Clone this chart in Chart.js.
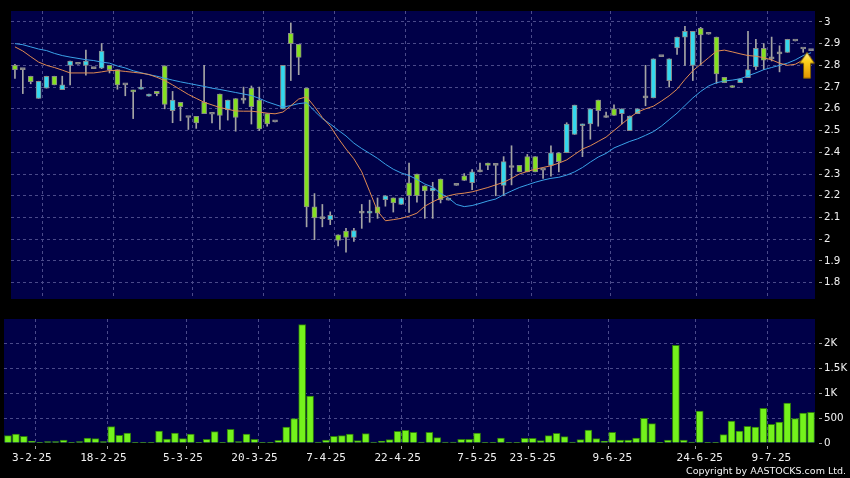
<!DOCTYPE html>
<html>
<head>
<meta charset="utf-8">
<script src="https://cdn.jsdelivr.net/npm/chart.js@4.4.1/dist/chart.umd.min.js"></script>
<style>
html, body { margin:0; padding:0; background:#000; }
#wrap { position:relative; width:850px; height:478px; overflow:hidden; background:#000; }
#price { position:absolute; left:0; top:0; }
#vol { position:absolute; left:0; top:310px; }
#copy { position:absolute; right:4px; top:466px; font-family:"DejaVu Sans"; font-size:9.5px; line-height:9.5px; color:#f4f4f4; white-space:nowrap; }
</style>
</head>
<body>
<div id="wrap">
<canvas id="price" width="850" height="310"></canvas>
<canvas id="vol" width="850" height="168"></canvas>
<div id="copy">Copyright by AASTOCKS.com Ltd.</div>
</div>
<script>
// daily candles, oldest first (102 sessions)
var opens = [2.80,2.78,2.75,2.648,2.695,2.75,2.688,2.80,2.805,2.80,
	2.785,2.787,2.80,2.78,2.71,2.686,2.69,2.658,2.68,2.798,
	2.592,2.63,2.56,2.565,2.63,2.575,2.668,2.595,2.647,2.64,
	2.695,2.64,2.578,2.54,2.60,2.947,2.897,2.695,2.149,2.095,
	2.09,2.02,2.038,2.008,2.12,2.12,2.149,2.182,2.19,2.16,
	2.26,2.30,2.246,2.222,2.277,2.18,2.248,2.292,2.26,2.31,
	2.35,2.34,2.248,2.33,2.34,2.38,2.38,2.318,2.34,2.398,
	2.398,2.482,2.522,2.53,2.64,2.56,2.60,2.578,2.50,2.578,
	2.65,2.65,2.84,2.73,2.88,2.93,2.80,2.97,2.943,2.93,
	2.745,2.707,2.72,2.743,2.793,2.878,2.83,2.853,2.86,2.912,
	2.875,2.868]
var highs = [2.805,2.78,2.75,2.727,2.75,2.75,2.75,2.82,2.805,2.87,
	2.785,2.90,2.80,2.78,2.71,2.686,2.735,2.668,2.68,2.798,
	2.68,2.63,2.56,2.565,2.80,2.575,2.668,2.64,2.647,2.70,
	2.705,2.70,2.578,2.54,2.80,2.995,2.897,2.695,2.21,2.16,
	2.126,2.02,2.05,2.05,2.16,2.18,2.19,2.20,2.19,2.19,
	2.35,2.30,2.246,2.262,2.277,2.18,2.248,2.302,2.32,2.35,
	2.35,2.34,2.38,2.43,2.34,2.39,2.38,2.318,2.43,2.398,
	2.536,2.617,2.53,2.60,2.64,2.585,2.618,2.60,2.567,2.60,
	2.80,2.83,2.84,2.83,2.93,2.98,2.956,2.975,2.943,2.93,
	2.745,2.707,2.738,2.956,2.92,2.90,2.93,2.89,2.92,2.912,
	2.875,2.868]
var lows = [2.74,2.67,2.715,2.648,2.695,2.71,2.688,2.71,2.805,2.755,
	2.785,2.785,2.765,2.69,2.66,2.555,2.69,2.658,2.66,2.60,
	2.536,2.545,2.505,2.51,2.578,2.535,2.505,2.548,2.497,2.625,
	2.53,2.50,2.52,2.54,2.60,2.73,2.757,2.057,1.998,2.057,
	2.067,1.969,1.94,1.99,2.05,2.078,2.096,2.152,2.125,2.16,
	2.123,2.17,2.096,2.096,2.167,2.18,2.248,2.27,2.228,2.31,
	2.32,2.20,2.20,2.25,2.31,2.31,2.31,2.28,2.29,2.31,
	2.398,2.482,2.38,2.46,2.52,2.56,2.57,2.53,2.50,2.578,
	2.614,2.65,2.84,2.70,2.85,2.80,2.73,2.80,2.943,2.717,
	2.72,2.698,2.72,2.743,2.78,2.78,2.82,2.77,2.86,2.912,
	2.86,2.868]
var closes = [2.78,2.78,2.725,2.727,2.75,2.71,2.71,2.82,2.805,2.82,
	2.785,2.866,2.78,2.71,2.71,2.678,2.70,2.668,2.67,2.62,
	2.64,2.61,2.56,2.535,2.578,2.575,2.57,2.64,2.56,2.64,
	2.61,2.507,2.53,2.54,2.80,2.90,2.837,2.149,2.098,2.095,
	2.11,1.994,2.008,2.04,2.12,2.128,2.12,2.20,2.167,2.19,
	2.20,2.20,2.222,2.237,2.182,2.18,2.248,2.27,2.31,2.31,
	2.34,2.34,2.357,2.33,2.31,2.31,2.31,2.318,2.398,2.357,
	2.53,2.617,2.53,2.60,2.592,2.56,2.57,2.60,2.567,2.60,
	2.65,2.83,2.84,2.83,2.93,2.956,2.956,2.94,2.943,2.76,
	2.72,2.698,2.738,2.78,2.878,2.824,2.83,2.853,2.92,2.912,
	2.875,2.868]

// moving averages (orange = short, blue = long)
var maShort = [2.885,2.866,2.84,2.815,2.80,2.79,2.778,2.765,2.765,2.765,
	2.765,2.77,2.776,2.776,2.772,2.768,2.764,2.758,2.745,2.73,
	2.71,2.688,2.666,2.648,2.63,2.618,2.606,2.598,2.59,2.589,
	2.589,2.585,2.58,2.577,2.585,2.614,2.645,2.655,2.61,2.56,
	2.52,2.465,2.415,2.37,2.31,2.22,2.13,2.085,2.09,2.096,
	2.106,2.12,2.152,2.172,2.189,2.20,2.208,2.212,2.218,2.228,
	2.238,2.25,2.262,2.28,2.30,2.312,2.322,2.33,2.338,2.35,
	2.365,2.39,2.415,2.43,2.45,2.47,2.50,2.53,2.56,2.585,
	2.60,2.612,2.635,2.66,2.69,2.735,2.775,2.805,2.835,2.865,
	2.87,2.862,2.853,2.845,2.842,2.835,2.825,2.81,2.80,2.805,
	2.825,2.838]
var maLong = [2.90,2.895,2.885,2.875,2.868,2.855,2.845,2.838,2.832,2.826,
	2.822,2.815,2.81,2.797,2.788,2.775,2.766,2.757,2.75,2.741,
	2.732,2.724,2.717,2.71,2.703,2.695,2.689,2.682,2.675,2.668,
	2.661,2.648,2.632,2.62,2.608,2.615,2.624,2.628,2.59,2.555,
	2.53,2.502,2.475,2.442,2.417,2.395,2.372,2.345,2.322,2.305,
	2.293,2.275,2.254,2.24,2.211,2.19,2.16,2.15,2.155,2.165,
	2.176,2.185,2.205,2.222,2.238,2.25,2.262,2.272,2.28,2.285,
	2.295,2.31,2.33,2.355,2.378,2.395,2.42,2.435,2.45,2.462,
	2.478,2.495,2.52,2.55,2.58,2.615,2.65,2.68,2.705,2.72,
	2.728,2.732,2.738,2.752,2.765,2.78,2.79,2.80,2.81,2.825,
	2.845,2.858]

// volume (shares, thousands)
var vols = [147,180,133,40,5,27,27,60,5,27,
	100,87,27,327,153,200,5,5,5,240,
	80,200,87,180,13,73,227,5,273,27,
	180,73,13,13,53,320,487,2367,940,20,
	60,133,147,180,47,187,20,40,67,233,
	253,213,20,215,107,20,20,73,73,200,
	13,7,100,3,13,93,93,47,147,193,
	127,20,67,260,87,40,213,60,60,100,
	493,387,7,60,1953,60,20,640,13,3,
	167,440,240,333,320,693,373,420,800,487,
	600,613]
var volTicks = [0, 500, 1000, 1500, 2000]

// date axis
var tickText = ['3-2-25','18-2-25','5-3-25','20-3-25','7-4-25','22-4-25','7-5-25','23-5-25','9-6-25','24-6-25','9-7-25']
var labelIdx = [3,12,22,31,40,49,59,66,76,87,96]
var gridIdx = [4,13,23,32,41,50,59,66,76,87,96]
var arrowAt = 2.80

var cats = opens.map(function(v, i){
	var k = labelIdx.indexOf(i)
	return k >= 0 ? tickText[k] : ''
})

var navy = '#000048'
var gridCol = '#4a4a8a'
var tickCol = '#9c9c9c'

function vGrid(ctx){ return gridIdx.indexOf(ctx.index) >= 0 ? gridCol : 'rgba(0,0,0,0)' }
function vTick(ctx){ return gridIdx.indexOf(ctx.index) >= 0 ? tickCol : 'rgba(0,0,0,0)' }

var navyBg = {
	id: 'navyBg',
	beforeDraw: function(chart){
		var a = chart.chartArea, c = chart.ctx
		c.save()
		c.fillStyle = navy
		c.fillRect(a.left, a.top, a.right - a.left, a.bottom - a.top)
		c.restore()
	}
}

// little yellow "up" arrow used as a point style
function makeArrow(){
	var cv = document.createElement('canvas')
	cv.width = 24; cv.height = 28
	var g = cv.getContext('2d')
	g.beginPath()
	g.moveTo(8, 1); g.lineTo(15.5, 12); g.lineTo(11.5, 12); g.lineTo(11.5, 27)
	g.lineTo(4.5, 27); g.lineTo(4.5, 12); g.lineTo(0.5, 12); g.closePath()
	var gr = g.createLinearGradient(0, 0, 0, 28)
	gr.addColorStop(0, '#fff4a8'); gr.addColorStop(0.35, '#ffd21c'); gr.addColorStop(1, '#e09000')
	g.fillStyle = gr; g.fill()
	g.strokeStyle = '#7a5a00'; g.lineWidth = 1; g.stroke()
	return cv
}

var bodyCol = opens.map(function(o, i){
	if (closes[i] > o) return '#33d8ee'
	if (closes[i] < o) return '#84e020'
	return '#9a9a9a'
})

var yFont = {family: 'DejaVu Sans', size: 10.3}

new Chart(document.getElementById('price'), {
	type: 'bar',
	data: {
		labels: cats,
		datasets: [{
			type: 'line', data: cats.map(function(c, i){ return i === cats.length - 1 ? arrowAt : null }),
			showLine: false, pointStyle: makeArrow(), pointRadius: 10, order: 0
		}, {
			type: 'line', data: maShort, borderColor: '#e08a52', borderWidth: 1, pointRadius: 0, order: 1
		}, {
			type: 'line', data: maLong, borderColor: '#3aa2e8', borderWidth: 1, pointRadius: 0, order: 1
		}, {
			data: opens.map(function(o, i){ return [o, closes[i]] }),
			backgroundColor: bodyCol, borderColor: '#8a8a8a', borderWidth: 1, borderSkipped: false,
			barThickness: 5, minBarLength: 2, grouped: false, order: 2
		}, {
			data: lows.map(function(l, i){ return [l, highs[i]] }),
			backgroundColor: '#a4a4a4', barThickness: 1, grouped: false, order: 3
		}]
	},
	options: {
		responsive: false, animation: false,
		layout: {padding: {left: 4, top: 6, right: 0, bottom: 3}},
		plugins: {legend: {display: false}, tooltip: {enabled: false}},
		scales: {
			x: {
				grid: {color: vGrid, offset: true, drawTicks: false},
				border: {display: false, dash: [3, 3]},
				ticks: {display: false},
				afterFit: function(s){ s.height = 0 }
			},
			y: {
				position: 'right', min: 1.725, max: 3.05,
				grid: {color: gridCol, tickColor: tickCol, tickLength: 7, tickBorderDash: [0, 4, 10, 10]},
				border: {display: false, dash: [3, 3]},
				ticks: {
					stepSize: 0.1, includeBounds: false, padding: 2, color: '#f2f2f2', font: yFont,
					callback: function(v){ return String(+v.toFixed(1)) }
				},
				afterFit: function(s){ s.width = 35 }
			}
		}
	},
	plugins: [navyBg]
})

new Chart(document.getElementById('vol'), {
	type: 'bar',
	data: {
		labels: cats,
		datasets: [{
			data: vols, backgroundColor: '#74f21c', borderColor: '#2c7a0c', borderWidth: 1, barThickness: 7
		}]
	},
	options: {
		responsive: false, animation: false,
		layout: {padding: {left: 4, top: 9, right: 0, bottom: 0}},
		plugins: {legend: {display: false}, tooltip: {enabled: false}},
		scales: {
			x: {
				grid: {color: vGrid, tickColor: vTick, offset: true, tickLength: 6, tickBorderDash: [0, 3, 10, 10]},
				border: {display: false, dash: [3, 3]},
				ticks: {autoSkip: false, maxRotation: 0, padding: 3, color: '#f2f2f2', font: {family: 'DejaVu Sans Mono', size: 11}},
				afterFit: function(s){ s.height = 35 }
			},
			y: {
				position: 'right', min: 0, max: 2480,
				afterBuildTicks: function(s){
					s.ticks = volTicks.map(function(v){ return {value: v} })
				},
				grid: {
					color: function(ctx){ return ctx.tick && ctx.tick.value === 0 ? 'rgba(0,0,0,0)' : gridCol },
					tickColor: tickCol, tickLength: 7, tickBorderDash: [0, 4, 10, 10]
				},
				border: {display: false, dash: [3, 3]},
				ticks: {
					padding: 2, color: '#f2f2f2', font: yFont,
					callback: function(v){ return v < 1000 ? String(v) : (v / 1000) + 'K' }
				},
				afterFit: function(s){ s.width = 35 }
			}
		}
	},
	plugins: [navyBg]
})
</script>
</body>
</html>
